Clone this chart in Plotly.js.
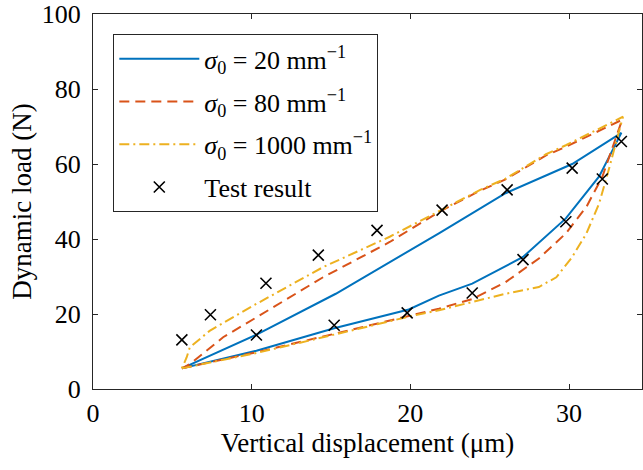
<!DOCTYPE html>
<html>
<head>
<meta charset="utf-8">
<script src="https://cdn.plot.ly/plotly-3.0.1.min.js"></script>
<style>html,body{margin:0;padding:0;background:#fff;}#chart{width:643px;height:470px;}</style>
</head>
<body>
<div id="chart"></div>
<script>
// sigma0 = 20 mm^-1 (loop: loading branch then unloading branch)
var s20X = [5.6, 10.3, 15.2, 19.9, 21.8, 23.9, 27.1, 29.8, 31.9, 33.3, 30.2, 26.0, 21.8, 15.3, 10.4, 5.6];
var s20Y = [5.5, 10.2, 16.2, 21.2, 24.9, 28.1, 35.2, 45.5, 56.7, 68.3, 60.0, 52.2, 41.5, 25.4, 14.7, 5.5];
// sigma0 = 80 mm^-1
var s80X = [5.6, 10.3, 15.2, 19.9, 21.8, 23.9, 26.0, 28.1, 29.8, 31.1, 32.1, 33.35, 29.8, 28.55, 26.0, 24.4, 21.8, 18.7, 14.5, 10.3, 8.2, 6.1, 5.6];
var s80Y = [5.5, 9.8, 14.7, 19.6, 21.4, 24.0, 28.5, 34.8, 41.5, 48.6, 56.6, 71.8, 64.6, 62.3, 55.9, 52.9, 47.2, 39.2, 29.8, 19.1, 13.8, 6.6, 5.5];
// sigma0 = 1000 mm^-1
var s1000X = [5.6, 10.3, 15.2, 19.9, 21.8, 23.9, 26.0, 28.1, 29.2, 30.2, 31.1, 31.9, 32.5, 33.4, 29.8, 28.55, 26.0, 24.4, 21.8, 18.7, 14.5, 10.3, 7.35, 6.1, 5.9, 5.6];
var s1000Y = [5.5, 9.6, 14.5, 19.3, 21.0, 23.1, 25.4, 27.2, 29.8, 35.2, 41.5, 49.5, 58.4, 72.6, 65.0, 62.6, 56.1, 53.1, 47.4, 40.6, 32.5, 22.7, 15.5, 11.1, 8.4, 5.5];
// Test result
var testX = [5.6, 7.4, 10.3, 10.9, 14.2, 15.2, 17.9, 19.8, 22.0, 23.9, 26.1, 27.1, 29.8, 30.2, 32.1, 33.3];
var testY = [13.1, 19.8, 14.4, 28.2, 35.7, 17.0, 42.3, 20.3, 47.7, 25.6, 53.1, 34.5, 44.6, 58.9, 56.0, 66.0];

var names = [
  '<i>σ</i><sub>0</sub> = 20 mm<sup>−1</sup>',
  '<i>σ</i><sub>0</sub> = 80 mm<sup>−1</sup>',
  '<i>σ</i><sub>0</sub> = 1000 mm<sup>−1</sup>',
  'Test result'
];
var xTicks = [0, 10, 20, 30];
var yTicks = [0, 20, 40, 60, 80, 100];

var font = 'Liberation Serif, Times New Roman, serif';
var traces = [
  {x: s20X, y: s20Y, name: names[0], legendgroup: 'a', mode: 'lines', line: {color: '#0072BD', width: 2}},
  {x: s80X, y: s80Y, name: names[1], legendgroup: 'b', mode: 'lines', line: {color: '#D95319', width: 2, dash: '10px,6px'}},
  {x: s1000X, y: s1000Y, name: names[2], legendgroup: 'c', mode: 'lines', line: {color: '#EDB120', width: 2, dash: '10px,4px,2px,4px'}},
  {x: testX, y: testY, name: names[3], legendgroup: 'd', mode: 'markers',
   marker: {symbol: 'x-thin', size: 11, color: '#000', line: {color: '#000', width: 1.6}}}
];

var axisCommon = {
  showgrid: false, zeroline: false, showline: true, linecolor: '#262626', linewidth: 1,
  mirror: 'ticks', ticks: 'inside', ticklen: 5, tickcolor: '#262626',
  tickfont: {family: font, size: 26, color: '#000'}
};

var layout = {
  width: 643, height: 470,
  margin: {l: 93, r: 1, t: 14, b: 81},
  paper_bgcolor: '#fff', plot_bgcolor: '#fff',
  showlegend: true,
  font: {family: font, color: '#000'},
  xaxis: Object.assign({}, axisCommon, {
    range: [0, 34.6], tickvals: xTicks, ticktext: xTicks.map(String),
    ticklabelstandoff: 1,
    title: {text: 'Vertical displacement (μm)', font: {family: font, size: 27, color: '#000'}, standoff: 1}
  }),
  yaxis: Object.assign({}, axisCommon, {
    range: [0, 100], tickvals: yTicks, ticktext: yTicks.map(String),
    ticklabelstandoff: 6,
    title: {text: 'Dynamic load (N)', font: {family: font, size: 27, color: '#000'}, standoff: 2}
  }),
  legend: {
    x: 0.037, y: 0.946, xanchor: 'left', yanchor: 'top',
    bgcolor: '#fff', bordercolor: '#262626', borderwidth: 1,
    font: {family: font, size: 26, color: '#000'},
    itemwidth: 80, tracegroupgap: 6
  }
};

Plotly.newPlot('chart', traces, layout, {staticPlot: true, displayModeBar: false});
</script>
</body>
</html>
